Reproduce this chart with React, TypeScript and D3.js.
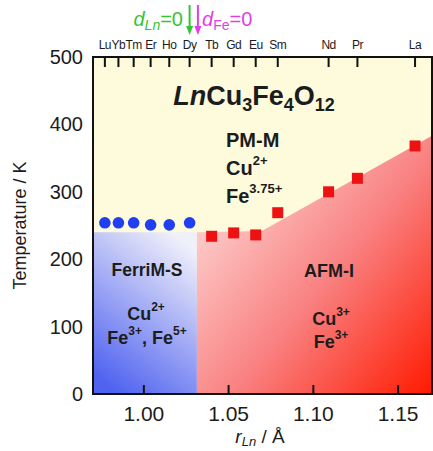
import React from "react";
import * as d3 from "d3";

// Ln ions (8-coordinate ionic radii, Å)
const elements = ["Lu", "Yb", "Tm", "Er", "Ho", "Dy", "Tb", "Gd", "Eu", "Sm", "Nd", "Pr", "La"];
const radii = [0.977, 0.985, 0.994, 1.004, 1.015, 1.027, 1.04, 1.053, 1.066, 1.079, 1.109, 1.126, 1.16];

// Transition temperatures (K)
const ferriElements = ["Lu", "Yb", "Tm", "Er", "Ho", "Dy"];
const ferriTemps = [254, 254, 254, 251, 251, 254];
const afmElements = ["Tb", "Gd", "Eu", "Sm", "Nd", "Pr", "La"];
const afmTemps = [234, 239, 236, 269, 300, 320, 368];

// AFM-I phase boundary (radius, temperature)
const boundaryR = [1.0313, 1.0696, 1.17];
const boundaryT = [240, 242, 383];
const ferriTop = 240;

const xTicks = [1.0, 1.05, 1.1, 1.15];
const yTicks = [0, 100, 200, 300, 400, 500];

const W = 433;
const H = 451;
const left = 93;
const right = 432;
const top = 57;
const bottom = 394;

const FONT = "'Liberation Sans', Arial, Helvetica, sans-serif";
const INK = "#1c1c1c";

export default function App() {
  const x = d3.scaleLinear().domain([0.97, 1.17]).range([left, right]);
  const y = d3.scaleLinear().domain([0, 500]).range([bottom, top]);
  const rOf = (el: string) => radii[elements.indexOf(el)];

  const afmPoly: [number, number][] = [
    [boundaryR[0], 0],
    ...boundaryR.map((r, i) => [r, boundaryT[i]] as [number, number]),
    [boundaryR[boundaryR.length - 1], 0],
  ];
  const afmPath = d3.line<[number, number]>()
    .x((d) => x(d[0]))
    .y((d) => y(d[1]))(afmPoly) + "Z";

  const xb = x(boundaryR[0]);
  const xDy = x(rOf("Dy"));

  return (
    <svg width={W} height={H} style={{ position: "absolute", left: 0, top: 0, background: "#fff" }}>
      <defs>
        <linearGradient id="ferriGrad" x1="0.75" y1="0" x2="0.25" y2="1">
          <stop offset="0" stopColor="#f0f0fa" />
          <stop offset="1" stopColor="#5063f0" />
        </linearGradient>
        <linearGradient id="afmGrad" gradientUnits="userSpaceOnUse" x1={xb} y1={200} x2={right} y2={bottom}>
          <stop offset="0" stopColor="#fdd6d4" />
          <stop offset="0.5" stopColor="#f98080" />
          <stop offset="1" stopColor="#ff1a00" />
        </linearGradient>
      </defs>

      {/* plot background (PM-M) */}
      <rect x={left} y={top} width={right - left} height={bottom - top} fill="#fdfbdc" />

      {/* FerriM-S region */}
      <rect x={left} y={y(ferriTop)} width={xb - left} height={bottom - y(ferriTop)} fill="url(#ferriGrad)" />

      {/* AFM-I region */}
      <path d={afmPath} fill="url(#afmGrad)" />

      {/* data markers */}
      {ferriElements.map((el, i) => (
        <circle key={el} cx={x(rOf(el))} cy={y(ferriTemps[i])} r={5.8} fill="#1f3ff0" />
      ))}
      {afmElements.map((el, i) => (
        <rect key={el} x={x(rOf(el)) - 5.5} y={y(afmTemps[i]) - 5.5} width={11} height={11} fill="#ee1111" />
      ))}

      {/* frame */}
      <rect x={left} y={top} width={right - left} height={bottom - top} fill="none" stroke="#111" strokeWidth={2} />

      {/* bottom axis */}
      {xTicks.map((t) => (
        <g key={t}>
          <line x1={x(t)} x2={x(t)} y1={bottom} y2={bottom - 9} stroke="#111" strokeWidth={2} />
          <text x={x(t)} y={421} textAnchor="middle" fontFamily={FONT} fontSize={21} fill={INK}>
            {t.toFixed(2)}
          </text>
        </g>
      ))}
      <text x={260} y={443} textAnchor="middle" fontFamily={FONT} fontSize={19} fill={INK}>
        <tspan fontStyle="italic">r</tspan>
        <tspan fontStyle="italic" fontSize={13} dy={3}>Ln</tspan>
        <tspan dy={-3}> / Å</tspan>
      </text>

      {/* left axis */}
      {yTicks.map((t) => (
        <text key={t} x={83} y={y(t) + 7} textAnchor="end" fontFamily={FONT} fontSize={20} fill={INK}>
          {t}
        </text>
      ))}
      <text transform={`translate(26,${(top + bottom) / 2}) rotate(-90)`} textAnchor="middle" fontFamily={FONT} fontSize={18} fill={INK}>
        Temperature / K
      </text>

      {/* top axis: Ln ions */}
      {elements.map((el, i) => (
        <g key={el}>
          <line x1={x(radii[i])} x2={x(radii[i])} y1={top} y2={top + 10} stroke="#111" strokeWidth={2} />
          <text x={x(radii[i])} y={49} textAnchor="middle" fontFamily={FONT} fontSize={12} letterSpacing={-0.5} fill={INK}>
            {el}
          </text>
        </g>
      ))}

      {/* d = 0 markers */}
      <text x={183} y={26} textAnchor="end" fontFamily={FONT} fontSize={20} fill="#35c435">
        <tspan fontStyle="italic">d</tspan>
        <tspan fontStyle="italic" fontSize={14} dy={4}>Ln</tspan>
        <tspan dy={-4}>=0</tspan>
      </text>
      <line x1={xDy} x2={xDy} y1={5} y2={28} stroke="#35c435" strokeWidth={2} />
      <path d={`M${xDy - 3.5},26 L${xDy + 3.5},26 L${xDy},35 Z`} fill="#35c435" />
      <line x1={xb + 1} x2={xb + 1} y1={5} y2={28} stroke="#e43de4" strokeWidth={2} />
      <path d={`M${xb + 1 - 3.5},26 L${xb + 1 + 3.5},26 L${xb + 1},35 Z`} fill="#e43de4" />
      <text x={202} y={26} fontFamily={FONT} fontSize={20} fill="#e43de4">
        <tspan fontStyle="italic">d</tspan>
        <tspan fontSize={14} dy={4}>Fe</tspan>
        <tspan dy={-4}>=0</tspan>
      </text>

      {/* compound title */}
      <text x={254} y={105} textAnchor="middle" fontFamily={FONT} fontSize={27} fontWeight="bold" fill={INK}>
        <tspan fontStyle="italic">Ln</tspan>
        <tspan>Cu</tspan>
        <tspan fontSize={18} dy={6}>3</tspan>
        <tspan dy={-6}>Fe</tspan>
        <tspan fontSize={18} dy={6}>4</tspan>
        <tspan dy={-6}>O</tspan>
        <tspan fontSize={18} dy={6}>12</tspan>
      </text>

      {/* PM-M label */}
      <g fontFamily={FONT} fontWeight="bold" fill={INK}>
        <text x={226} y={147} fontSize={20}>PM-M</text>
        <text x={226} y={175} fontSize={20}>
          Cu<tspan fontSize={13} dy={-10}>2+</tspan>
        </text>
        <text x={226} y={203} fontSize={20}>
          Fe<tspan fontSize={13} dy={-10}>3.75+</tspan>
        </text>
      </g>

      {/* FerriM-S label */}
      <g fontFamily={FONT} fontWeight="bold" fill={INK} textAnchor="middle">
        <text x={147} y={276} fontSize={17.5}>FerriM-S</text>
        <text x={146} y={320} fontSize={18}>
          Cu<tspan fontSize={12} dy={-9}>2+</tspan>
        </text>
        <text x={147} y={344} fontSize={18}>
          Fe<tspan fontSize={12} dy={-9}>3+</tspan><tspan dy={9}>, Fe</tspan><tspan fontSize={12} dy={-9}>5+</tspan>
        </text>
      </g>

      {/* AFM-I label */}
      <g fontFamily={FONT} fontWeight="bold" fill={INK} textAnchor="middle">
        <text x={329} y={277} fontSize={18}>AFM-I</text>
        <text x={331} y={325} fontSize={18}>
          Cu<tspan fontSize={12} dy={-9}>3+</tspan>
        </text>
        <text x={331} y={348} fontSize={18}>
          Fe<tspan fontSize={12} dy={-9}>3+</tspan>
        </text>
      </g>
    </svg>
  );
}
